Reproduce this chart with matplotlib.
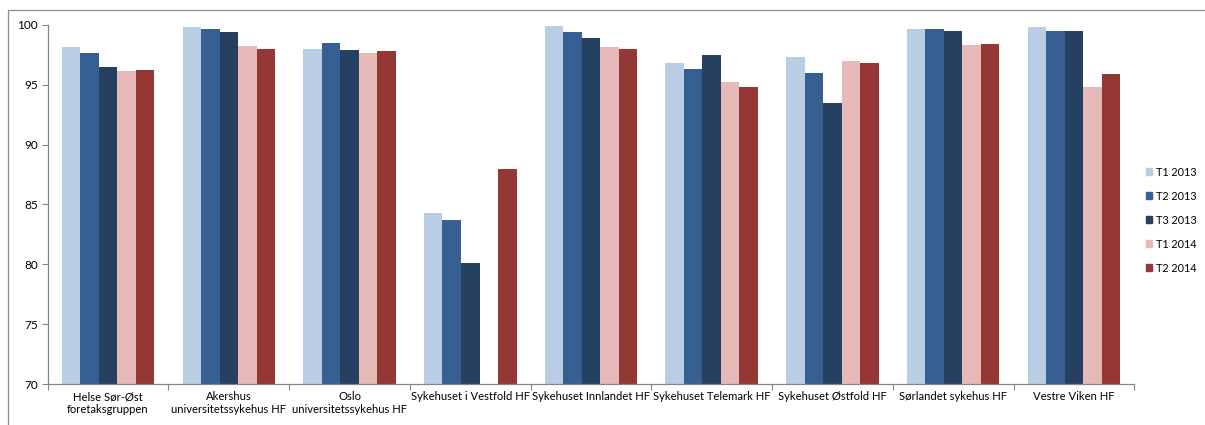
import numpy as np
import matplotlib.pyplot as plt
from matplotlib.patches import Rectangle, Patch

plt.rcParams['font.family'] = ['Lato', 'DejaVu Sans']

categories = ["Helse Sør-Øst\nforetaksgruppen", "Akershus\nuniversitetssykehus HF",
              "Oslo\nuniversitetssykehus HF", "Sykehuset i Vestfold HF",
              "Sykehuset Innlandet HF", "Sykehuset Telemark HF",
              "Sykehuset Østfold HF", "Sørlandet sykehus HF", "Vestre Viken HF"]
series_names = ["T1 2013", "T2 2013", "T3 2013", "T1 2014", "T2 2014"]
t1_2013 = [98.1, 99.8, 98.0, 84.3, 99.9, 96.8, 97.3, 99.6, 99.8]
t2_2013 = [97.6, 99.6, 98.5, 83.7, 99.4, 96.3, 96.0, 99.6, 99.5]
t3_2013 = [96.5, 99.4, 97.9, 80.1, 98.9, 97.5, 93.5, 99.5, 99.5]
t1_2014 = [96.1, 98.2, 97.6, np.nan, 98.1, 95.2, 97.0, 98.3, 94.8]
t2_2014 = [96.2, 98.0, 97.8, 88.0, 98.0, 94.8, 96.8, 98.4, 95.9]
colors = ["#B9CDE5", "#376092", "#254061", "#E6B9B8", "#953735"]

fig = plt.figure(figsize=(12.05, 4.25), dpi=100)
ax = fig.add_axes([0.0396, 0.0958, 0.9017, 0.8461])

x = np.arange(len(categories))
w = 0.1534
all_series = [t1_2013, t2_2013, t3_2013, t1_2014, t2_2014]
for i, vals in enumerate(all_series):
    v = np.array(vals, dtype=float)
    ax.bar(x + (i - 2) * w, v - 70, bottom=70, width=w, color=colors[i],
           label=series_names[i], edgecolor='none')

ax.set_xlim(-0.5, len(categories) - 0.5)
ax.set_ylim(70, 100)
ax.set_yticks(range(70, 101, 5))
ax.tick_params(axis='y', labelsize=8.5, length=4, color='#868686', pad=3)
ax.set_xticks(np.arange(-0.5, len(categories), 1.0))
ax.set_xticklabels([])
ax.set_xticks(x, minor=True)
ax.set_xticklabels(categories, minor=True, fontsize=8.1)
ax.tick_params(axis='x', which='major', length=4, color='#868686')
ax.tick_params(axis='x', which='minor', length=0, pad=5)
for s in ['top', 'right']:
    ax.spines[s].set_visible(False)
for s in ['left', 'bottom']:
    ax.spines[s].set_color('#868686')
    ax.spines[s].set_linewidth(0.9)

handles = [Patch(color=c, label=n) for c, n in zip(colors, series_names)]
fig.legend(handles=handles, loc='center left', bbox_to_anchor=(0.951, 0.482),
           frameon=False, fontsize=7.8, handlelength=0.6, handleheight=0.6,
           handletextpad=0.3, labelspacing=1.2, borderpad=0, borderaxespad=0)

fig.patches.append(Rectangle((8 / 1205, -0.05), 1.2, 1 - 10 / 425 + 0.05,
                             transform=fig.transFigure, fill=False,
                             edgecolor='#8c8c8c', linewidth=0.9))

fig.savefig("out.png", dpi=100)
